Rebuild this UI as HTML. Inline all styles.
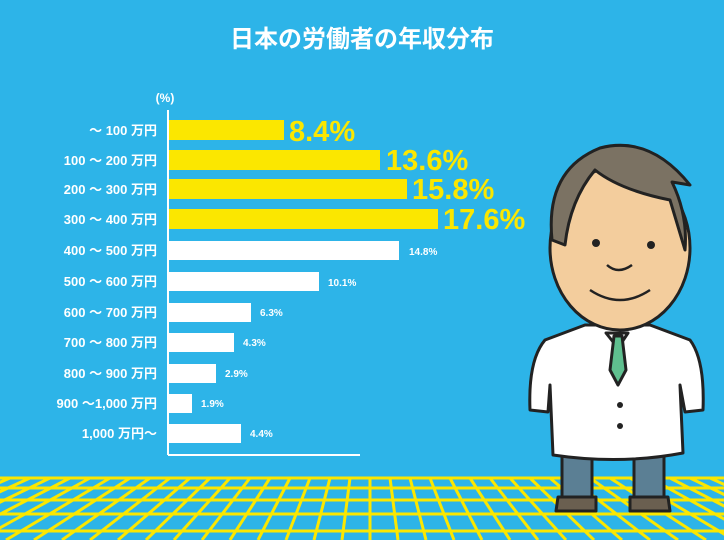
<!DOCTYPE html>
<html><head><meta charset="utf-8"><style>
html,body{margin:0;padding:0;}
body{width:724px;height:540px;overflow:hidden;background:#2db4e8;}
svg{display:block}
.l{font-family:"Liberation Sans","Noto Sans CJK JP",sans-serif;font-weight:bold;fill:#fff;font-size:13px;text-anchor:end}
.v{font-family:"Liberation Sans",sans-serif;font-weight:bold;fill:#fff;font-size:10px}
.y{font-family:"Liberation Sans",sans-serif;font-weight:bold;fill:#fbe700;font-size:29px}
</style></head><body>
<svg width="724" height="540" viewBox="0 0 724 540">
<rect width="724" height="540" fill="#2db4e8"/>
<g stroke="#fbe700" stroke-width="3" fill="none">
<line x1="0" y1="478" x2="724" y2="478"/>
<line x1="0" y1="488" x2="724" y2="488"/>
<line x1="0" y1="500" x2="724" y2="500"/>
<line x1="0" y1="514" x2="724" y2="514"/>
<line x1="0" y1="531" x2="724" y2="531"/>
<line x1="370" y1="478" x2="370" y2="540"/>
<line x1="350" y1="478" x2="342" y2="540"/><line x1="390" y1="478" x2="398" y2="540"/>
<line x1="330" y1="478" x2="314" y2="540"/><line x1="410" y1="478" x2="426" y2="540"/>
<line x1="310" y1="478" x2="286" y2="540"/><line x1="430" y1="478" x2="454" y2="540"/>
<line x1="290" y1="478" x2="258" y2="540"/><line x1="450" y1="478" x2="482" y2="540"/>
<line x1="270" y1="478" x2="230" y2="540"/><line x1="470" y1="478" x2="510" y2="540"/>
<line x1="250" y1="478" x2="202" y2="540"/><line x1="490" y1="478" x2="538" y2="540"/>
<line x1="230" y1="478" x2="174" y2="540"/><line x1="510" y1="478" x2="566" y2="540"/>
<line x1="210" y1="478" x2="146" y2="540"/><line x1="530" y1="478" x2="594" y2="540"/>
<line x1="190" y1="478" x2="118" y2="540"/><line x1="550" y1="478" x2="622" y2="540"/>
<line x1="170" y1="478" x2="90" y2="540"/><line x1="570" y1="478" x2="650" y2="540"/>
<line x1="150" y1="478" x2="62" y2="540"/><line x1="590" y1="478" x2="678" y2="540"/>
<line x1="130" y1="478" x2="34" y2="540"/><line x1="610" y1="478" x2="706" y2="540"/>
<line x1="110" y1="478" x2="6" y2="540"/><line x1="630" y1="478" x2="734" y2="540"/>
<line x1="90" y1="478" x2="-22" y2="540"/><line x1="650" y1="478" x2="762" y2="540"/>
<line x1="70" y1="478" x2="-50" y2="540"/><line x1="670" y1="478" x2="790" y2="540"/>
<line x1="50" y1="478" x2="-78" y2="540"/><line x1="690" y1="478" x2="818" y2="540"/>
<line x1="30" y1="478" x2="-106" y2="540"/><line x1="710" y1="478" x2="846" y2="540"/>
<line x1="10" y1="478" x2="-134" y2="540"/>
</g>
<text x="362" y="47" font-family="Liberation Sans,Noto Sans CJK JP,sans-serif" font-weight="bold" font-size="24" fill="#fff" text-anchor="middle">日本の労働者の年収分布</text>
<text x="165" y="102" class="l" style="font-size:12px;text-anchor:middle">(%)</text>
<line x1="168" y1="110" x2="168" y2="455" stroke="#fff" stroke-width="2"/>
<line x1="168" y1="455" x2="360" y2="455" stroke="#fff" stroke-width="2"/>
<g fill="#fbe700">
<rect x="169" y="120" width="115" height="20"/>
<rect x="169" y="150" width="211" height="20"/>
<rect x="169" y="179" width="238" height="20"/>
<rect x="169" y="209" width="269" height="20"/>
</g>
<g fill="#fff">
<rect x="169" y="241" width="230" height="19"/>
<rect x="169" y="272" width="150" height="19"/>
<rect x="169" y="303" width="82" height="19"/>
<rect x="169" y="333" width="65" height="19"/>
<rect x="169" y="364" width="47" height="19"/>
<rect x="169" y="394" width="23" height="19"/>
<rect x="169" y="424" width="72" height="19"/>
</g>
<text class="y" x="289" y="141">8.4%</text>
<text class="y" x="386" y="170">13.6%</text>
<text class="y" x="412" y="199">15.8%</text>
<text class="y" x="443" y="229">17.6%</text>
<text class="v" x="409" y="255">14.8%</text>
<text class="v" x="328" y="286">10.1%</text>
<text class="v" x="260" y="316">6.3%</text>
<text class="v" x="243" y="346">4.3%</text>
<text class="v" x="225" y="377">2.9%</text>
<text class="v" x="201" y="407">1.9%</text>
<text class="v" x="250" y="437">4.4%</text>
<text class="l" x="157" y="135">～ 100 万円</text>
<text class="l" x="157" y="165">100 ～ 200 万円</text>
<text class="l" x="157" y="194">200 ～ 300 万円</text>
<text class="l" x="157" y="224">300 ～ 400 万円</text>
<text class="l" x="157" y="255">400 ～ 500 万円</text>
<text class="l" x="157" y="286">500 ～ 600 万円</text>
<text class="l" x="157" y="317">600 ～ 700 万円</text>
<text class="l" x="157" y="347">700 ～ 800 万円</text>
<text class="l" x="157" y="378">800 ～ 900 万円</text>
<text class="l" x="157" y="408">900 ～1,000 万円</text>
<text class="l" x="157" y="438">1,000 万円～</text>
<g stroke="#222" stroke-width="3" stroke-linejoin="round">
<rect x="562" y="448" width="30" height="52" fill="#5b7f94"/>
<rect x="634" y="448" width="30" height="52" fill="#5b7f94"/>
<path d="M558 497 h38 v14 h-40 z" fill="#6a5f50"/>
<path d="M630 497 h38 l2 14 h-40 z" fill="#6a5f50"/>
<path d="M585 325 L545 340 Q528 360 530 410 L548 412 L550 385 L553 455 Q620 465 683 453 L680 385 L685 412 L703 410 Q705 360 690 340 L650 325 Z" fill="#fff"/>
<path d="M606 333 L618 348 L628 333 Z" fill="#fff"/>
<path d="M614 336 L622 336 L626 370 L618 385 L610 370 Z" fill="#5fbf8f"/>
<ellipse cx="620" cy="248" rx="70" ry="82" fill="#f3cd9d"/>
<path d="M552 240 Q545 170 600 148 Q650 135 690 185 L672 182 Q688 215 685 250 L670 200 Q620 190 595 170 Q570 200 565 245 Z" fill="#7b7263"/>
</g>
<circle cx="596" cy="243" r="4" fill="#222"/><circle cx="651" cy="245" r="4" fill="#222"/>
<circle cx="620" cy="405" r="3" fill="#222"/><circle cx="620" cy="426" r="3" fill="#222"/>
<path d="M590 290 Q620 310 650 290" stroke="#222" stroke-width="2.5" fill="none"/>
<path d="M607 265 Q618 275 632 265" stroke="#222" stroke-width="2.5" fill="none"/>
</svg>
</body></html>
